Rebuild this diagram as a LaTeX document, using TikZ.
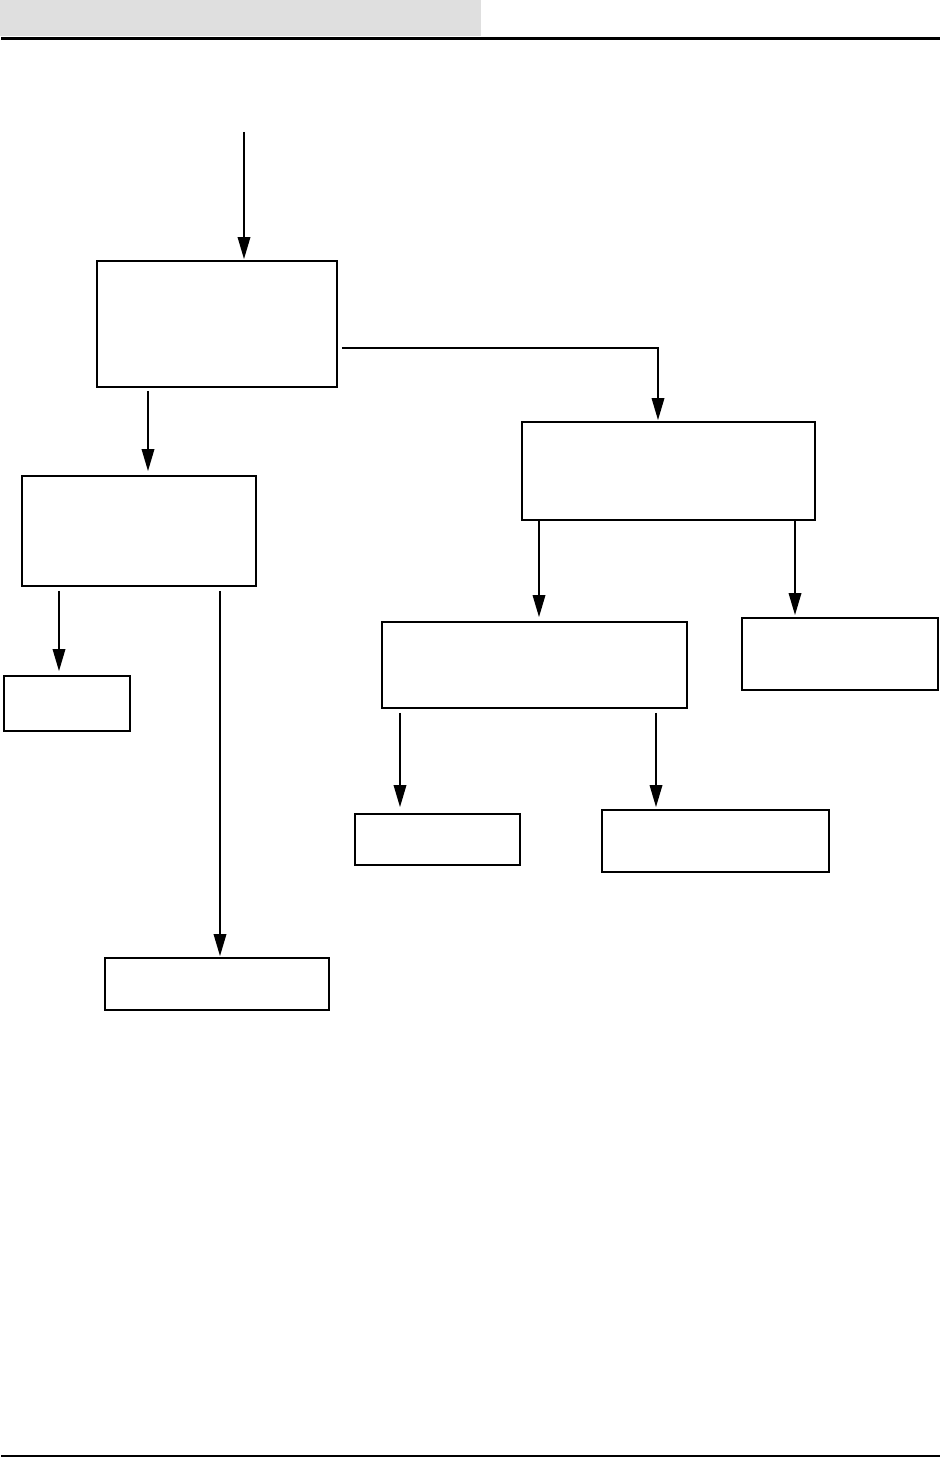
\documentclass[tikz,border=0pt]{standalone}
\usetikzlibrary{arrows.meta}
\definecolor{hdrgray}{HTML}{DFDFDF}
\begin{document}
\begin{tikzpicture}[x=1pt,y=-1pt,
  box/.style={draw=black,line width=1.8pt,rectangle,inner sep=0pt},
  arr/.style={draw=black,line width=1.8pt,-{Triangle[length=22pt,width=12.5pt]}}]
\useasboundingbox (0,0) rectangle (942,1458);
% header and footer
\fill[hdrgray] (0,0) rectangle (481,36);
\draw[line width=3pt] (1,38.5) -- (940,38.5);
\draw[line width=2.5pt] (1,1456) -- (940,1456);
% boxes
\node[box,minimum width=240pt,minimum height=126pt] (A) at (217,324) {};
\node[box,minimum width=234pt,minimum height=110pt] (B) at (139,531) {};
\node[box,minimum width=293pt,minimum height=98pt] (C) at (668.5,471) {};
\node[box,minimum width=305pt,minimum height=86pt] (D) at (534.5,665) {};
\node[box,minimum width=196pt,minimum height=72pt] (E) at (840,654) {};
\node[box,minimum width=126pt,minimum height=55pt] (F) at (67,703.5) {};
\node[box,minimum width=165pt,minimum height=51pt] (G) at (437.5,839.5) {};
\node[box,minimum width=227pt,minimum height=62pt] (H) at (715.5,841) {};
\node[box,minimum width=224pt,minimum height=52pt] (I) at (217,984) {};
\coordinate (in) at (244,132);
% connectors
\draw[arr,shorten >=1pt] (in) -- ([xshift=27pt]A.north);
\draw[arr,shorten <=3pt,shorten >=4pt] ([xshift=-69pt]A.south) -- ([xshift=9pt]B.north);
\draw[arr,shorten <=4pt,shorten >=1pt] ([yshift=-24pt]A.east) -| ([xshift=-10.5pt]C.north);
\draw[arr,shorten <=4pt,shorten >=4pt] ([xshift=-80pt]B.south) -- ([xshift=-8pt]F.north);
\draw[arr,shorten <=4pt,shorten >=1pt] ([xshift=81pt]B.south) -- ([xshift=3pt]I.north);
\draw[arr,shorten >=4pt] ([xshift=-129.5pt]C.south) -- ([xshift=4.5pt]D.north);
\draw[arr,shorten >=2pt] ([xshift=126.5pt]C.south) -- ([xshift=-45pt]E.north);
\draw[arr,shorten <=4pt,shorten >=6pt] ([xshift=-134.5pt]D.south) -- ([xshift=-37.5pt]G.north);
\draw[arr,shorten <=4pt,shorten >=2pt] ([xshift=121.5pt]D.south) -- ([xshift=-59.5pt]H.north);
\end{tikzpicture}
\end{document}
